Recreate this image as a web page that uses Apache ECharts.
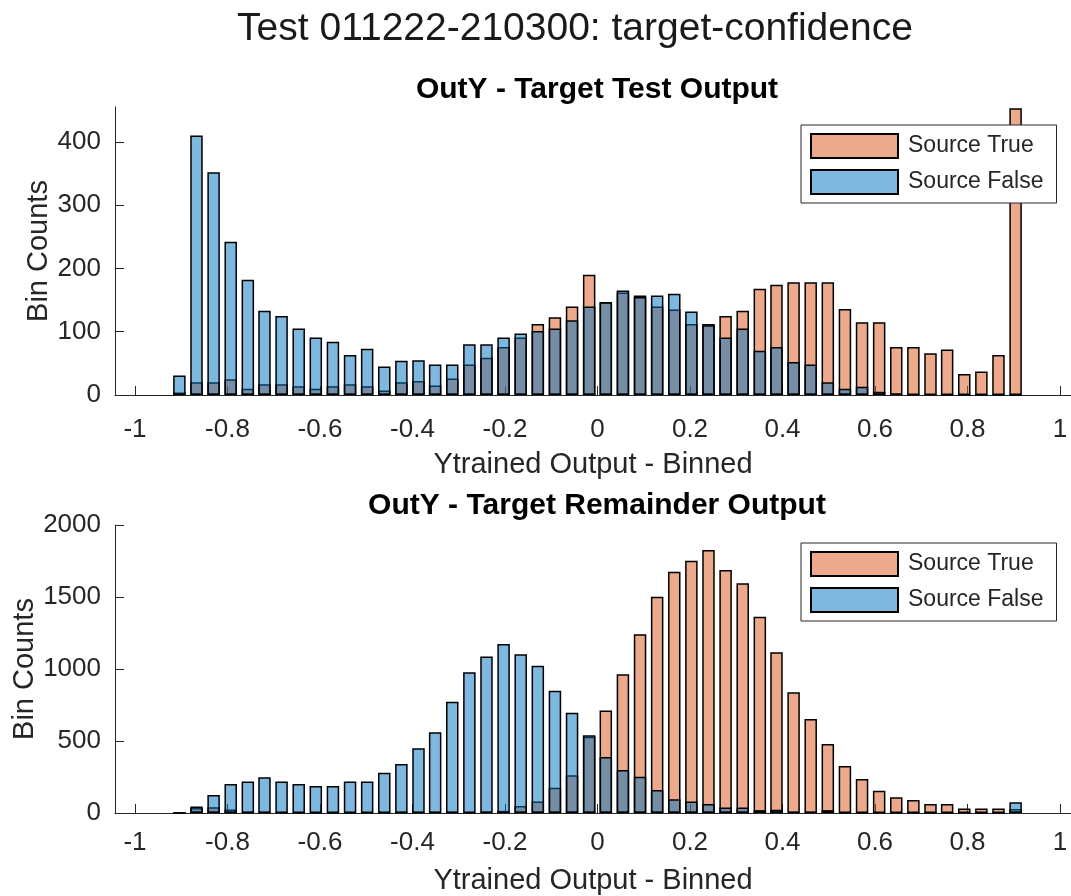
<!DOCTYPE html>
<html>
<head>
<meta charset="utf-8">
<title>Test 011222-210300: target-confidence</title>
<script src="https://cdn.jsdelivr.net/npm/echarts@6/dist/echarts.min.js"></script>
<style>
  html, body { margin: 0; padding: 0; background: #ffffff; }
  #chart { width: 1071px; height: 896px; }
</style>
</head>
<body>
<div id="chart"></div>
<script>
// Bin centres of the 50-bin histogram of the trained output
const binCenters = [
  -0.904, -0.867, -0.830, -0.793, -0.756, -0.720, -0.683, -0.646, -0.609, -0.572,
  -0.535, -0.498, -0.461, -0.424, -0.387, -0.351, -0.314, -0.277, -0.240, -0.203,
  -0.166, -0.129, -0.092, -0.055, -0.018,  0.018,  0.055,  0.092,  0.129,  0.166,
   0.203,  0.240,  0.277,  0.314,  0.351,  0.387,  0.424,  0.461,  0.498,  0.535,
   0.572,  0.609,  0.646,  0.683,  0.720,  0.756,  0.793,  0.830,  0.867,  0.904
];

// Target test output: bin counts
const testSourceTrue = [
    4,  20,  20,  25,  10,  17,  17,  14,  10,  14,
   17,  14,   7,  20,  22,  15,  26,  48,  59,  76,
   91, 112, 123, 140, 190, 146, 162, 157, 140, 135,
  112, 112, 125, 133, 168, 174, 178, 178, 178, 136,
  115, 115,  76,  76,  66,  72,  33,  37,  63, 453
];
const testSourceFalse = [
   31, 410, 352, 242, 182, 133, 125, 105,  91,  84,
   63,  73,  45,  54,  55,  48,  48,  80,  80,  91,
   97, 101, 105, 118, 140, 147, 165, 155, 157, 160,
  132, 110,  91, 105,  70,  76,  52,  48,  20,  10,
   13,   5,   2,   1,   1,   0,   0,   0,   0,   0
];

// Target remainder output: bin counts
const remSourceTrue = [
    0,  35,  40,  25,   8,   6,   5,   4,   5,   4,
    5,   4,   5,   6,   8,   8,   6,   5,  10,  15,
   49,  79, 176, 262, 530, 711, 963, 1241, 1502, 1676,
  1752, 1826, 1688, 1595, 1363, 1116, 838, 653, 479, 326,
  236, 155, 109,  90,  62,  62,  32,  32,  32,  28
];
const remSourceFalse = [
    0,  45, 125, 201, 218, 248, 218, 201, 188, 188,
  218, 218, 280, 340, 449, 560, 773, 977, 1086, 1174,
  1102, 1023, 849, 697, 540, 389, 299, 252, 160,  95,
   79,  63,  39,  39,  20,  22,   8,   6,  20,   5,
    4,   3,   3,   2,   2,   2,   2,   1,   1,  75
];

// Axis ticks
const xTicks = [-1, -0.8, -0.6, -0.4, -0.2, 0, 0.2, 0.4, 0.6, 0.8, 1];
const xTickLabels = ['-1', '-0.8', '-0.6', '-0.4', '-0.2', '0', '0.2', '0.4', '0.6', '0.8', '1'];
const yTicksTest = [0, 100, 200, 300, 400];
const yTicksRem = [0, 500, 1000, 1500, 2000];

const seriesNames = ['Source True', 'Source False'];

const FONT = "'Liberation Sans', Arial, Helvetica, sans-serif";
const AXIS_COLOR = '#262626';
const TRUE_FILL = 'rgba(217, 83, 25, 0.5)';
const FALSE_FILL = 'rgba(0, 114, 189, 0.5)';

function pairs(values) {
  return binCenters.map((c, i) => [c, values[i]]);
}

// Visible x window: the axis starts a little left of -1 and runs to the right edge of the canvas
const X_MIN = -1.0432;
const X_MAX = 1.0238;

function xAxisFor(gridIndex, labelMargin, nameGap) {
  return {
    type: 'value',
    gridIndex: gridIndex,
    min: X_MIN,
    max: X_MAX,
    name: 'Ytrained Output - Binned',
    nameLocation: 'middle',
    nameGap: nameGap,
    nameMoveOverlap: false,
    nameTextStyle: { fontFamily: FONT, fontSize: 29, color: AXIS_COLOR },
    axisLine: { show: true, onZero: false, lineStyle: { color: AXIS_COLOR, width: 1 } },
    axisTick: { show: true, inside: true, length: 9, customValues: xTicks,
                lineStyle: { color: AXIS_COLOR, width: 1 } },
    axisLabel: {
      show: true, customValues: xTicks, margin: labelMargin,
      fontFamily: FONT, fontSize: 26, color: AXIS_COLOR,
      formatter: (v) => {
        const i = xTicks.findIndex((t) => Math.abs(t - v) < 1e-9);
        return i >= 0 ? xTickLabels[i] : '';
      }
    },
    splitLine: { show: false }
  };
}

function yAxisFor(gridIndex, max, ticks, nameGap) {
  return {
    type: 'value',
    gridIndex: gridIndex,
    min: 0,
    max: max,
    name: 'Bin Counts',
    nameLocation: 'middle',
    nameGap: nameGap,
    nameMoveOverlap: false,
    nameTextStyle: { fontFamily: FONT, fontSize: 29, color: AXIS_COLOR },
    axisLine: { show: true, onZero: false, lineStyle: { color: AXIS_COLOR, width: 1 } },
    axisTick: { show: true, inside: true, length: 9, customValues: ticks,
                lineStyle: { color: AXIS_COLOR, width: 1 } },
    axisLabel: { show: true, customValues: ticks, margin: 14,
                 fontFamily: FONT, fontSize: 26, color: AXIS_COLOR,
                 formatter: (v) => String(v) },
    splitLine: { show: false }
  };
}

function barSeries(name, values, fill, axisIndex) {
  return {
    name: name,
    type: 'bar',
    xAxisIndex: axisIndex,
    yAxisIndex: axisIndex,
    data: pairs(values),
    barWidth: 12.5,
    barGap: '-100%',
    itemStyle: { color: fill, borderColor: '#000000', borderWidth: 1.5 },
    emphasis: { disabled: true },
    animation: false
  };
}

function legendFor(top) {
  return {
    data: seriesNames,
    orient: 'vertical',
    left: 801,
    top: top,
    icon: 'rect',
    itemWidth: 87,
    itemHeight: 24,
    itemGap: 10,
    padding: [8, 13, 8, 9],
    backgroundColor: '#ffffff',
    borderColor: AXIS_COLOR,
    borderWidth: 1,
    selectedMode: false,
    textStyle: { fontFamily: FONT, fontSize: 23, color: AXIS_COLOR, padding: [0, 0, 0, 5] }
  };
}

const option = {
  backgroundColor: '#ffffff',
  animation: false,
  title: [
    { text: 'Test 011222-210300: target-confidence', left: 570, top: 5, textAlign: 'center',
      textStyle: { fontFamily: FONT, fontSize: 39, fontWeight: 'normal', color: '#1a1a1a' } },
    { text: 'OutY - Target Test Output', left: 592, top: 70, textAlign: 'center',
      textStyle: { fontFamily: FONT, fontSize: 30, fontWeight: 'bold', color: '#000000' } },
    { text: 'OutY - Target Remainder Output', left: 592, top: 486, textAlign: 'center',
      textStyle: { fontFamily: FONT, fontSize: 30, fontWeight: 'bold', color: '#000000' } }
  ],
  legend: [legendFor(125), legendFor(543)],
  grid: [
    { left: 115, right: 0, top: 107, height: 288, containLabel: false },
    { left: 115, right: 0, top: 525, height: 288, containLabel: false }
  ],
  xAxis: [xAxisFor(0, 22, 55), xAxisFor(1, 17, 53)],
  yAxis: [yAxisFor(0, 455, yTicksTest, 62), yAxisFor(1, 2000, yTicksRem, 76)],
  series: [
    barSeries('Source True', testSourceTrue, TRUE_FILL, 0),
    barSeries('Source False', testSourceFalse, FALSE_FILL, 0),
    barSeries('Source True', remSourceTrue, TRUE_FILL, 1),
    barSeries('Source False', remSourceFalse, FALSE_FILL, 1)
  ]
};

const chart = echarts.init(document.getElementById('chart'), null, { renderer: 'canvas' });
chart.setOption(option);
</script>
</body>
</html>
